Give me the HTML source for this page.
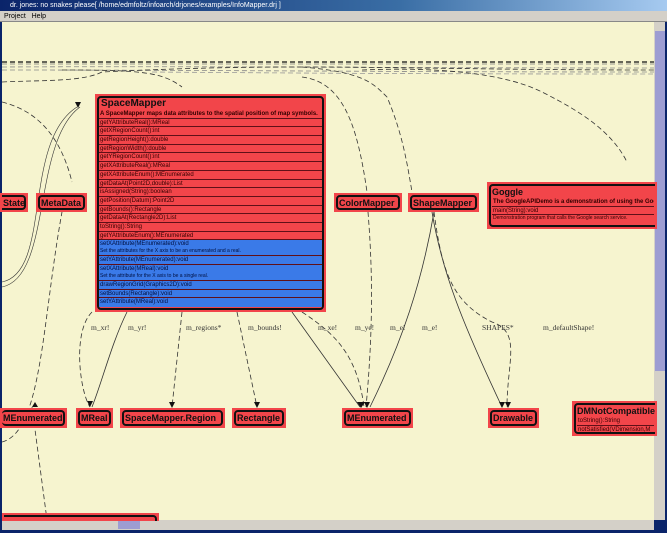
<!DOCTYPE html>
<html><head><meta charset="utf-8"><style>
*{margin:0;padding:0;box-sizing:border-box}
body{width:667px;height:533px;overflow:hidden;background:#0a246a;font-family:"Liberation Sans",sans-serif;position:relative}
.title{position:absolute;left:0;top:0;width:667px;height:11px;background:linear-gradient(90deg,#0a246a,#3a6ea5 60%,#a6caf0);color:#fff;font-size:7px;line-height:11px;padding-left:10px}
.menu{position:absolute;left:0;top:11px;width:667px;height:11px;background:#d4d0c8;font-size:7px;line-height:11px;padding-left:4px;border-bottom:1px solid #888}
.canvas{position:absolute;left:2px;top:22px;width:652px;height:498px;background:#f6f4cf;overflow:hidden}
.vs{position:absolute;left:654px;top:22px;width:11px;height:498px;background:#d4d0c8}
.vthumb{position:absolute;left:655px;top:31px;width:10px;height:340px;background:#9d9dd2}
.hs{position:absolute;left:2px;top:520px;width:652px;height:10px;background:#d4d0c8}
.hthumb{position:absolute;left:118px;top:521px;width:22px;height:8px;background:#9d9dd2}
.n{position:absolute;background:#f2454a;padding:2px}
.n>div{border:2px solid #111;border-radius:4px;height:100%;font-weight:bold;color:#111;font-size:9px;line-height:12px;padding:0 1px;white-space:nowrap;overflow:hidden}
.r{font-size:6px;height:8.7px;line-height:8px;border-bottom:1px solid #601018;font-weight:normal;padding-left:1px;white-space:nowrap;overflow:hidden;color:#300}
.r.t{height:auto}
.b{background:#3a7ae8;color:#001040}
.d{font-size:5px;line-height:7px;height:7px}
.lbl{position:absolute;font-family:"Liberation Serif",serif;font-size:7.5px;color:#333}
</style></head><body>
<div class="title">dr. jones: no snakes please[ /home/edmfoltz/infoarch/drjones/examples/InfoMapper.drj ]</div>
<div class="menu">Project &nbsp;&nbsp;Help</div>
<div class="canvas">
<svg width="652" height="498" style="position:absolute;left:0;top:0" fill="none" stroke="#333" stroke-width="0.8" stroke-dasharray="5,3">
<path d="M0 40 H652" stroke="#111" stroke-width="1.2"/>
<path d="M0 42 H652" stroke="#777"/>
<path d="M0 45 C200 44 400 46 652 46" stroke="#888"/>
<path d="M0 48 C200 48 400 50 652 50" stroke="#888"/>
<path d="M150 50 C400 52 550 52 652 52" stroke="#999"/>
<path d="M0 60 C40 58 80 60 100 50 C300 40 400 48 652 48"/>
<path d="M0 80 C40 90 60 120 70 160"/>
<path d="M60 48 C140 48 160 50 180 65"/>
<path d="M300 55 C340 60 355 100 365 170"/>
<path d="M300 45 C360 50 370 60 385 75 C400 110 405 140 410 170"/>
<path d="M360 48 C430 45 500 50 540 70 C580 90 610 110 625 140"/>
<path d="M0 260 C50 250 20 120 75 85" stroke-dasharray="none" stroke-width="0.6"/>
<path d="M0 265 C50 255 30 120 78 85" stroke-dasharray="none" stroke-width="0.6"/>
<path d="M0 420 C40 410 40 300 60 190"/>
<path d="M30 385 L45 498"/>
<path d="M90 290 C70 310 78 370 88 385"/>
<path d="M125 290 C110 320 100 360 90 385" stroke-dasharray="none"/>
<path d="M180 290 L170 385"/>
<path d="M235 290 L255 385"/>
<path d="M290 290 L358 385" stroke-dasharray="none"/>
<path d="M300 290 C330 310 355 330 362 385"/>
<path d="M366 190 C370 240 372 300 364 385"/>
<path d="M432 190 C420 260 400 320 368 385" stroke-dasharray="none"/>
<path d="M430 190 C440 250 460 300 500 385" stroke-dasharray="none"/>
<path d="M432 190 C440 250 450 280 490 300 C520 310 505 340 505 385"/>
</svg>
<svg width="652" height="498" style="position:absolute;left:0;top:0" fill="#111">
<path d="M73 80 l3 6 l3 -6z"/><path d="M85 379 l3 6 l3 -6z"/>
<path d="M167 380 l3 6 l3 -6z"/><path d="M252 380 l3 6 l3 -6z"/>
<path d="M355 380 l4 6 l4 -6z"/><path d="M362 380 l3 6 l3 -6z"/>
<path d="M497 380 l3 6 l3 -6z"/><path d="M503 380 l3 6 l3 -6z"/>
<path d="M30 385 l3 -5 l3 5z"/>
</svg>
<div class="lbl" style="left:89px;top:301px">m_xr!</div>
<div class="lbl" style="left:126px;top:301px">m_yr!</div>
<div class="lbl" style="left:184px;top:301px">m_regions*</div>
<div class="lbl" style="left:246px;top:301px">m_bounds!</div>
<div class="lbl" style="left:316px;top:301px">m_xe!</div>
<div class="lbl" style="left:353px;top:301px">m_ye!</div>
<div class="lbl" style="left:388px;top:301px">m_e!</div>
<div class="lbl" style="left:420px;top:301px">m_e!</div>
<div class="lbl" style="left:480px;top:301px">SHAPES*</div>
<div class="lbl" style="left:541px;top:301px">m_defaultShape!</div>
</div>
<div class="vs"></div><div class="vthumb"></div>
<div class="hs"></div><div class="hthumb"></div>

<div class="n" style="left:95px;top:94px;width:231px;height:218px"><div style="padding:0">
<div style="font-size:10px;line-height:12px;height:12px;padding-left:2px">SpaceMapper</div>
<div class="r" style="font-weight:bold">A SpaceMapper maps data attributes to the spatial position of map symbols.</div>
<div class="r">getYAttributeReal():MReal</div><div class="r">getXRegionCount():int</div><div class="r">getRegionHeight():double</div><div class="r">getRegionWidth():double</div><div class="r">getYRegionCount():int</div><div class="r">getXAttributeReal():MReal</div><div class="r">getXAttributeEnum():MEnumerated</div><div class="r">getDataAt(Point2D,double):List</div><div class="r">isAssigned(String):boolean</div><div class="r">getPosition(Datum):Point2D</div><div class="r">getBounds():Rectangle</div><div class="r">getDataAt(Rectangle2D):List</div><div class="r">toString():String</div><div class="r">getYAttributeEnum():MEnumerated</div>
<div class="r b t">setXAttribute(MEnumerated):void<div class="d">Set the attributes for the X axis to be an enumerated and a real.</div></div>
<div class="r b">setYAttribute(MEnumerated):void</div>
<div class="r b t">setXAttribute(MReal):void<div class="d">Set the attribute for the X axis to be a single real.</div></div>
<div class="r b">drawRegionGrid(Graphics2D):void</div><div class="r b">setBounds(Rectangle):void</div><div class="r b" style="border:none">setYAttribute(MReal):void</div>
</div></div>

<div class="n" style="left:0;top:193px;width:28px;height:19px"><div style="border-left:none;border-radius:0 4px 4px 0">State</div></div>
<div class="n" style="left:36px;top:193px;width:51px;height:19px"><div>MetaData</div></div>
<div class="n" style="left:334px;top:193px;width:68px;height:19px"><div>ColorMapper</div></div>
<div class="n" style="left:408px;top:193px;width:71px;height:19px"><div>ShapeMapper</div></div>
<div class="n" style="left:487px;top:182px;width:170px;height:47px"><div style="border-right:none;border-radius:4px 0 0 4px">Goggle<div class="r" style="font-weight:bold">The GoogleAPIDemo is a demonstration of using the Google</div><div class="r">main(String):void</div><div class="r d" style="border:none">Demonstration program that calls the Google search service.</div></div></div>
<div class="n" style="left:0;top:408px;width:67px;height:20px"><div style="border-left:none">MEnumerated</div></div>
<div class="n" style="left:76px;top:408px;width:37px;height:20px"><div>MReal</div></div>
<div class="n" style="left:120px;top:408px;width:105px;height:20px"><div>SpaceMapper.Region</div></div>
<div class="n" style="left:232px;top:408px;width:54px;height:20px"><div>Rectangle</div></div>
<div class="n" style="left:342px;top:408px;width:71px;height:20px"><div>MEnumerated</div></div>
<div class="n" style="left:488px;top:408px;width:51px;height:20px"><div>Drawable</div></div>
<div class="n" style="left:572px;top:401px;width:85px;height:35px"><div style="border-right:none;border-radius:4px 0 0 4px">DMNotCompatible<div class="r">toString():String</div><div class="r" style="border:none">notSatisfied(VDimension,M</div></div></div>
<div class="n" style="left:2px;top:513px;width:157px;height:8px;padding-bottom:0"><div style="border-bottom:none;border-left:none;border-radius:0 4px 0 0"></div></div>
</body></html>
